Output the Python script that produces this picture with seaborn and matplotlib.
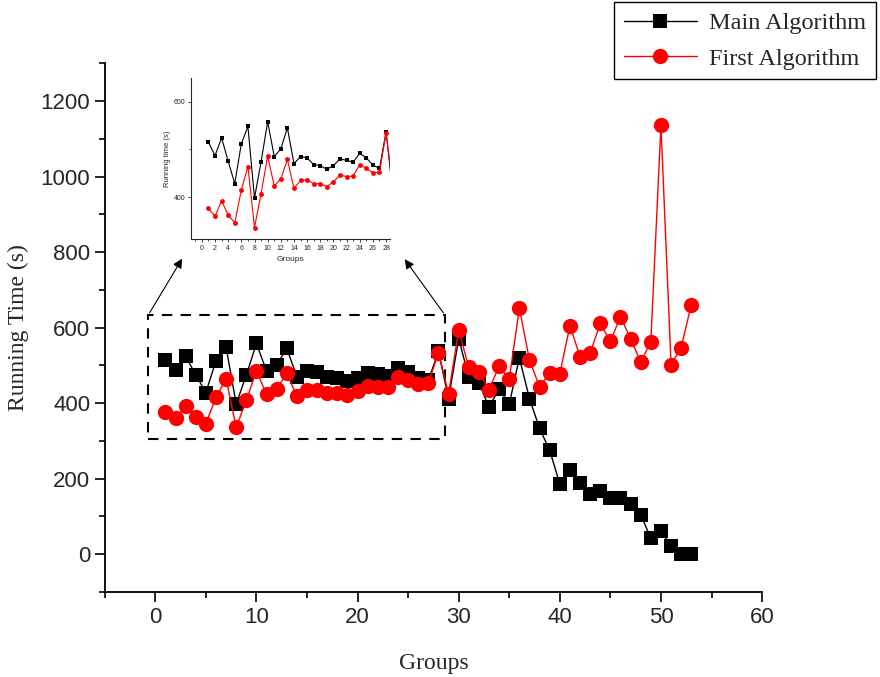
import numpy as np
import pandas as pd
import matplotlib
matplotlib.use("Agg")
import matplotlib.pyplot as plt
from matplotlib.patches import Rectangle
from matplotlib.ticker import MultipleLocator
import seaborn as sns

# data
groups = list(range(1, 54))
main_alg = [515, 487, 524, 475, 428, 512, 548, 398, 474, 558,
            485, 501, 545, 470, 485, 482, 468, 466, 458, 466,
            480, 477, 473, 492, 482, 467, 460, 537, 412, 571,
            469, 454, 389, 438, 397, 520, 412, 333, 275, 186,
            222, 189, 160, 167, 148, 148, 132, 105, 42, 61,
            21, 1, 1]
first_alg = [376, 360, 392, 362, 346, 415, 464, 336, 407, 486,
             423, 438, 479, 418, 435, 436, 428, 428, 422, 432,
             446, 443, 444, 468, 460, 451, 452, 534, 425, 593,
             495, 482, 436, 498, 464, 652, 514, 443, 480, 478,
             605, 523, 533, 611, 564, 629, 570, 509, 562, 1136,
             502, 547, 661]

df = pd.DataFrame({"Groups": groups, "Main": main_alg, "First": first_alg})
zoom_df = df[df["Groups"] <= 29]

sns.set_style("ticks")
plt.rcParams["font.family"] = ["Liberation Sans", "DejaVu Sans"]
plt.rcParams["xtick.direction"] = "out"
plt.rcParams["ytick.direction"] = "out"

fig = plt.figure(figsize=(8.8, 6.77), dpi=100)
ax = fig.add_axes([0.119, 0.1256, 0.747, 0.781])

#main plot
sns.lineplot(data=df, x="Groups", y="Main", ax=ax, color="black", lw=1,
             marker="s", markersize=9.5, markeredgewidth=0, label="Main Algorithm")
sns.lineplot(data=df, x="Groups", y="First", ax=ax, color="red", lw=1,
             marker="o", markersize=11, markeredgewidth=0, label="First Algorithm")

ax.set_xlim(-5, 60)
ax.set_ylim(-100, 1300)
ax.xaxis.set_minor_locator(MultipleLocator(5))
ax.yaxis.set_minor_locator(MultipleLocator(100))
ax.set_xticks(range(0, 61, 10))
ax.set_yticks(range(0, 1201, 200))
ax.tick_params(which="major", length=7, width=1.2, labelsize=16, color="black")
ax.tick_params(which="minor", length=4, width=1.2, color="black")
for s in ["top", "right"]:
    ax.spines[s].set_visible(False)
for s in ["left", "bottom"]:
    ax.spines[s].set_linewidth(1.3)
    ax.spines[s].set_color("black")
ax.set_xlabel("Groups", fontsize=17, family="Liberation Serif", labelpad=18)
ax.set_ylabel("Running Time (s)", fontsize=17, family="Liberation Serif", labelpad=8)

# dashed zoom box and arrows
ax.add_patch(Rectangle((-0.7, 305), 29.35, 328, fill=False, ls=(0, (5, 4)),
                       lw=1.5, ec="black"))
ax.annotate("", xy=(2.8, 789), xytext=(-0.7, 633),
            arrowprops=dict(arrowstyle="-|>", color="black", lw=0.8, mutation_scale=14))
ax.annotate("", xy=(24.5, 787), xytext=(28.65, 633),
            arrowprops=dict(arrowstyle="-|>", color="black", lw=0.8, mutation_scale=14))

handles, labels = ax.get_legend_handles_labels()
ax.get_legend().remove()
leg = fig.legend(handles, labels, loc="upper right", bbox_to_anchor=(0.998, 1.0),
                 prop={"family": "Liberation Serif", "size": 17.5},
                 frameon=True, fancybox=False, edgecolor="black", framealpha=1,
                 handlelength=3.0, handletextpad=0.5, borderpad=0.4,
                 labelspacing=0.55, borderaxespad=0.1)
leg.get_frame().set_linewidth(1.0)

# inset
ins = fig.add_axes([0.2167, 0.647, 0.2265, 0.238])
sns.lineplot(data=zoom_df, x="Groups", y="Main", ax=ins, color="black", lw=0.8,
             marker="s", markersize=3, markeredgewidth=0, legend=False)
sns.lineplot(data=zoom_df, x="Groups", y="First", ax=ins, color="red", lw=0.8,
             marker="o", markersize=3.5, markeredgewidth=0, legend=False)
ins.set_xlim(-1.7, 28.6)
ins.set_ylim(312, 650)
ins.set_xticks(range(0, 29, 2))
ins.xaxis.set_minor_locator(MultipleLocator(1))
ins.set_yticks([400, 600])
ins.yaxis.set_minor_locator(MultipleLocator(100))
ins.tick_params(which="major", length=2.5, width=0.6, labelsize=5, pad=1.5)
ins.tick_params(which="minor", length=1.5, width=0.6)
for s in ["top", "right"]:
    ins.spines[s].set_visible(False)
for s in ["left", "bottom"]:
    ins.spines[s].set_linewidth(0.8)
ins.set_xlabel("Groups", fontsize=6, labelpad=3)
ins.set_ylabel("Running time (s)", fontsize=5.5, labelpad=2)

fig.savefig("out.png", dpi=100)
